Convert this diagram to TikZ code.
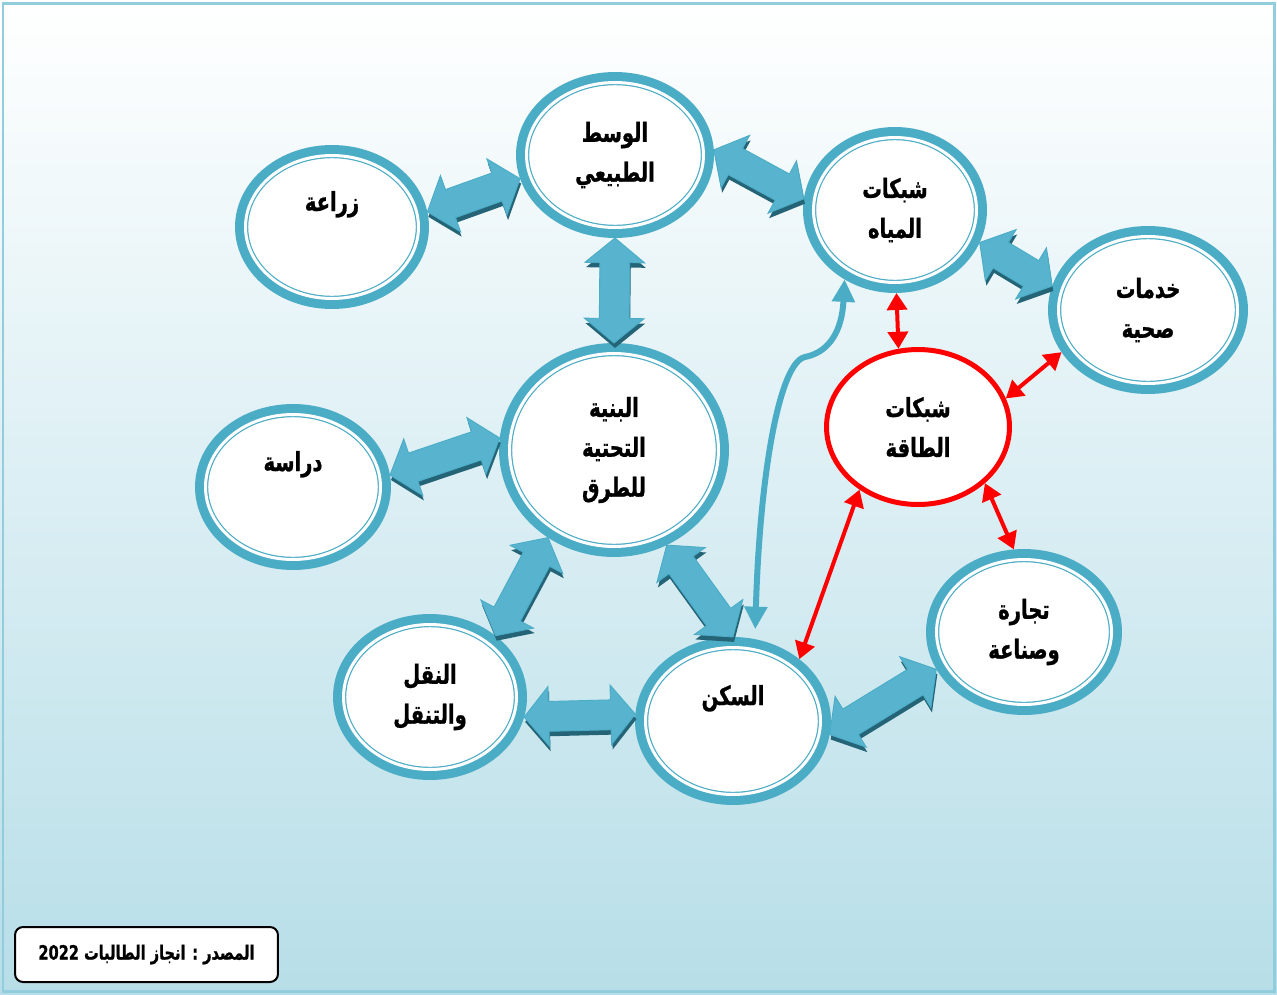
\documentclass[tikz,border=0pt]{standalone}
\usepackage{fontspec}
\usepackage{xcolor}
\usepackage{tikz}
\usetikzlibrary{calc,shadows,arrows.meta,shapes.geometric}
\newfontfamily\arabicfont[Script=Arabic, FakeStretch=0.74, FakeBold=1]{DejaVu Sans}
\TeXXeTstate=1
\newcommand\ar[1]{\beginR #1\endR}
\definecolor{ring}{RGB}{75,172,198}
\definecolor{ringdark}{RGB}{36,100,118}
\definecolor{ringlight}{RGB}{146,205,221}
\definecolor{arrowblue}{RGB}{88,180,206}
\definecolor{bgblue}{RGB}{183,222,232}

\begin{document}
\begin{tikzpicture}[x=0.02cm, y=-0.02cm]
            \tikzstyle{bubble} = [ellipse, fill=white, draw=ring, line width=0.024cm, double=white, double distance=0.06cm, preaction={draw=ring, line width=0.42cm}, outer sep=0.21cm, inner sep=0pt, align=center, font=\arabicfont\bfseries\fontsize{15}{22.7}\selectfont]
            \tikzstyle{power} = [ellipse, fill=white, draw=red, line width=0.1cm, inner sep=0pt, align=center, minimum width=3.66cm, minimum height=3.1cm, font=\arabicfont\bfseries\fontsize{15}{22.7}\selectfont]
            \tikzstyle{along} = [shift={(\p1)}, rotate=\n1]
            \tikzstyle{blockarrow} = [fill=arrowblue, draw=ring, line width=0.5pt, drop shadow={shadow xshift=0.6pt, shadow yshift=-2.8pt, fill=ringdark, opacity=1},
                to path={let \p1=(\tikztostart), \p2=(\tikztotarget), \n1={atan2(\y2-\y1,\x2-\x1)}, \n2={veclen(\x2-\x1,\y2-\y1)} in
                    ([along]0pt,0pt) -- ([along]14pt,17pt) -- ([along]14pt,8.5pt) -- ([along]\n2-14pt,8.5pt) -- ([along]\n2-14pt,17pt) -- ([along]\n2,0pt)
                    -- ([along]\n2-14pt,-17pt) -- ([along]\n2-14pt,-8.5pt) -- ([along]14pt,-8.5pt) -- ([along]14pt,-17pt) -- cycle}]
            \tikzstyle{redlink} = [red, line width=0.08cm, <->, >={Triangle[length=0.34cm, width=0.4cm]}]
            \tikzstyle{curvelink} = [ring, line width=0.12cm, <->, >={Triangle[length=0.45cm, width=0.44cm]}]

            % background and frame
            \useasboundingbox (0,0) rectangle (1277,994);
            \shade [top color=white, bottom color=bgblue] (0,0) rectangle (1277,994);
            \draw [ringlight, line width=0.06cm] (3,3) rectangle (1274,991);

            \node [bubble, minimum width=3.46cm, minimum height=2.86cm] (zr) at (332,227) {\ar{زراعة}\\ \strut};
            \node [bubble, minimum width=3.54cm, minimum height=2.90cm] (ws) at (615,155) {\ar{الوسط}\\ \ar{الطبيعي}};
            \node [bubble, minimum width=3.26cm, minimum height=2.90cm] (my) at (895,210) {\ar{شبكات}\\ \ar{المياه}};
            \node [bubble, minimum width=3.58cm, minimum height=2.94cm] (kh) at (1148,310) {\ar{خدمات}\\ \ar{صحية}};
            \node [bubble, minimum width=4.18cm, minimum height=3.86cm] (bn) at (614,450) {\ar{البنية}\\ \ar{التحتية}\\ \ar{للطرق}};
            \node [bubble, minimum width=3.50cm, minimum height=2.90cm] (dr) at (293,487) {\ar{دراسة}\\ \strut};
            \node [power] (tq) at (918,427) {\ar{شبكات}\\ \ar{الطاقة}};
            \node [bubble, minimum width=3.50cm, minimum height=2.90cm] (tj) at (1024,632) {\ar{تجارة}\\ \ar{وصناعة}};
            \node [bubble, minimum width=3.46cm, minimum height=2.90cm] (nq) at (430,697) {\ar{النقل}\\ \ar{والتنقل}};
            \node [bubble, minimum width=3.50cm, minimum height=2.94cm] (sk) at (733,721) {\ar{السكن}\\ \strut};

            \node [draw=black, line width=0.04cm, rounded corners=0.16cm, fill=white, minimum width=5.26cm, minimum height=1.1cm,
                font=\arabicfont\bfseries\fontsize{11.2}{13}\selectfont] (src) at (146.5,954.5) {\ar{المصدر : انجاز الطالبات \beginL2022\endL}};

            \draw [blockarrow] (zr.9) to (ws.194.6);
            \draw [blockarrow] (ws.3) to (my.173.4);
            \draw [blockarrow] (ws.south) to (bn.north);
            \draw [blockarrow] (my.339.4) to (kh.166);
            \draw [blockarrow] (dr.7.3) to (bn.174.8);
            \draw [blockarrow] (bn.233.6) to (nq.43.5);
            \draw [blockarrow] (bn.299.5) to (sk.90.7);
            \draw [blockarrow] (nq.348.7) to (sk.176);
            \draw [blockarrow] (sk.352.2) to (tj.203.7);

            \draw [curvelink, shorten >=0.2cm] (my.234) .. controls (842,330) and (830,352) .. (805,357) .. controls (780,362) and (760,470) .. (sk.75.4);

            \foreach \a/\b in {my.271.4/tq.104.9, tq.18.6/kh.206.3, tq.320.1/tj.97.9, tq.227.7/sk.43.2}
                \draw [redlink] (\a) to (\b);
\end{tikzpicture}
\end{document}
